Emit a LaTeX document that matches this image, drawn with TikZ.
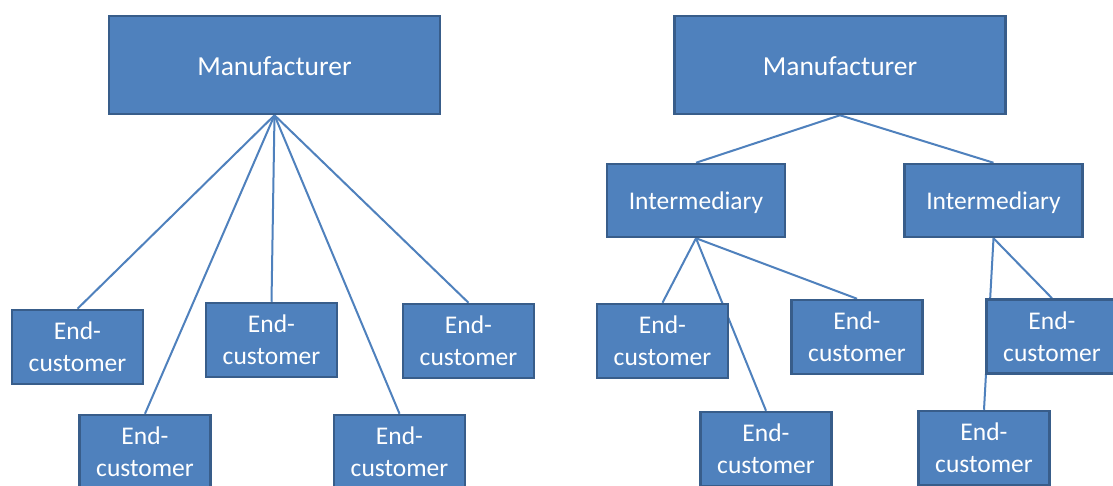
\documentclass[tikz,border=0pt]{standalone}
\usepackage{fontspec}
\setmainfont{Carlito}
\usetikzlibrary{backgrounds}
\definecolor{boxfill}{HTML}{4F81BD}
\definecolor{boxline}{HTML}{385D8A}
\definecolor{connblue}{HTML}{4F81BD}
\begin{document}
\begin{tikzpicture}[x=1pt,y=-1pt,
  box/.style={draw=boxline, fill=boxfill, line width=2.5pt, text=white,
    inner sep=0pt, align=center, font=\fontsize{25.5}{32}\selectfont},
  mfr/.style={box, minimum width=331pt, minimum height=98pt,
    font=\fontsize{27.5}{33}\selectfont, text height=22pt, text depth=0pt},
  inter/.style={box, minimum width=178pt, minimum height=73pt,
    text height=19pt, text depth=0pt},
  endbox/.style={box, minimum width=131pt, minimum height=74pt},
  conn/.style={draw=connblue, line width=2pt}]
\useasboundingbox (0,0) rectangle (1113,486);
\clip (0,0) rectangle (1113,486);
% left tree
\node[mfr] (m1) at (274.5,65) {Manufacturer};
\node[endbox] (a) at (77.5,347) {End-\\customer};
\node[endbox] (b) at (145,452) {End-\\customer};
\node[endbox] (c) at (271.5,340) {End-\\customer};
\node[endbox] (d) at (399.5,452) {End-\\customer};
\node[endbox] (e) at (468.5,341) {End-\\customer};
% right tree
\node[mfr] (m2) at (840,65) {Manufacturer};
\node[inter] (i1) at (696,200.5) {Intermediary};
\node[inter] (i2) at (993.5,200.5) {Intermediary};
\node[endbox] (f) at (662.5,341) {End-\\customer};
\node[endbox] (g) at (766,449) {End-\\customer};
\node[endbox] (h) at (857,337) {End-\\customer};
\node[endbox] (k) at (1052,336.5) {End-\\customer};
\node[endbox] (j) at (984,448) {End-\\customer};
\begin{scope}[on background layer]
\fill[white] (0,0) rectangle (1113,486);
\draw[conn] (m1.south) -- (a.north);
\draw[conn] (m1.south) -- (b.north);
\draw[conn] (m1.south) -- (c.north);
\draw[conn] (m1.south) -- (d.north);
\draw[conn] (m1.south) -- (e.north);
\draw[conn] (m2.south) -- (i1.north);
\draw[conn] (m2.south) -- (i2.north);
\draw[conn] (i1.south) -- (f.north);
\draw[conn] (i1.south) -- (g.north);
\draw[conn] (i1.south) -- (h.north);
\draw[conn] (i2.south) -- (k.north);
\draw[conn] (i2.south) -- (j.north);
\end{scope}
\end{tikzpicture}
\end{document}
